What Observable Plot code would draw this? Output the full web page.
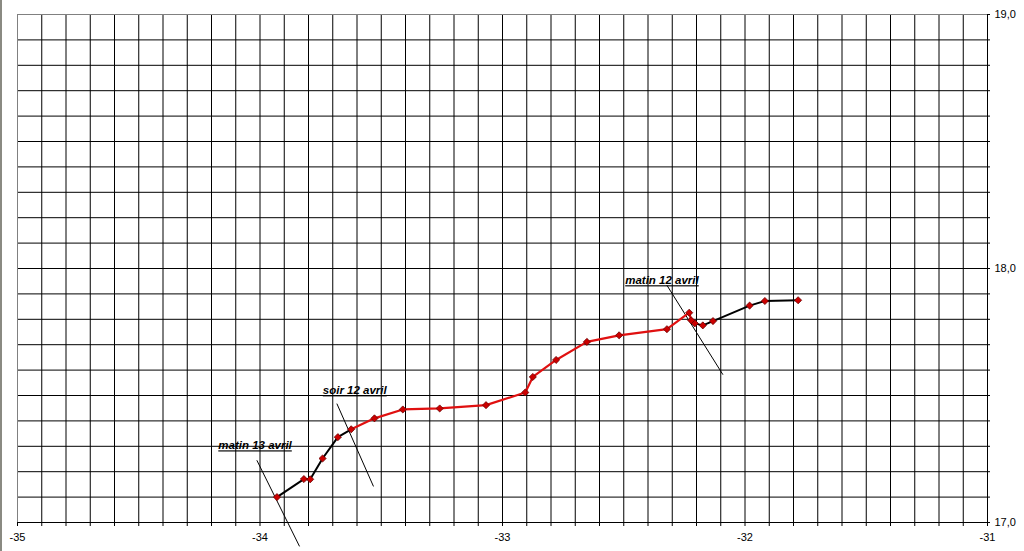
<!DOCTYPE html>
<html><head><meta charset="utf-8">
<script src="https://cdn.jsdelivr.net/npm/d3@7"></script>
<script src="https://cdn.jsdelivr.net/npm/@observablehq/plot@0.6"></script>
<style>
html,body{margin:0;padding:0;background:#fff;width:1024px;height:551px;overflow:hidden;}
#frame{position:absolute;left:0;top:0;width:2px;height:551px;background:#8a8a82;}
#chart{position:absolute;left:0;top:0;}
</style></head><body><div id="chart"></div><div id="frame"></div>
<script>
// Axis ticks and labels
const xTicks = [-35, -34, -33, -32, -31];
const xTickLabels = ["-35", "-34", "-33", "-32", "-31"];
const yTicks = [17, 18, 19];
const yTickLabels = ["17,0", "18,0", "19,0"];

// Track segments (longitude, latitude), east to west
const blackEarlyLon = [-31.781, -31.918, -31.981, -32.132, -32.174, -32.207, -32.222];
const blackEarlyLat = [17.875, 17.872, 17.854, 17.793, 17.776, 17.784, 17.796];
const redLon = [-32.222, -32.230, -32.322, -32.519, -32.652, -32.779, -32.875, -32.906, -33.068, -33.259, -33.411, -33.528, -33.624];
const redLat = [17.796, 17.826, 17.761, 17.737, 17.711, 17.640, 17.573, 17.512, 17.462, 17.449, 17.445, 17.410, 17.367];
const blackLateLon = [-33.624, -33.679, -33.742, -33.793, -33.819, -33.930];
const blackLateLat = [17.367, 17.336, 17.252, 17.170, 17.171, 17.100];

// Annotations
const annotText = ["matin 12 avril", "soir 12 avril", "matin 13 avril"];
const annotTextLon = [-32.494, -33.741, -34.172];
const annotTextLat = [17.938, 17.505, 17.288];
const annotLineLon1 = [-32.322, -33.683, -34.013];
const annotLineLat1 = [17.934, 17.468, 17.245];
const annotLineLon2 = [-32.091, -33.532, -33.837];
const annotLineLat2 = [17.582, 17.142, 16.906];

const seg = (lon, lat) => lon.map((x, i) => ({x, y: lat[i]}));
const blackEarly = seg(blackEarlyLon, blackEarlyLat);
const red = seg(redLon, redLat);
const blackLate = seg(blackLateLon, blackLateLat);
const allPts = [...blackEarly, ...red.slice(1), ...blackLate.slice(1)];
const annot = annotText.map((t, i) => ({
  t, x: annotTextLon[i], y: annotTextLat[i],
  x1: annotLineLon1[i], y1: annotLineLat1[i], x2: annotLineLon2[i], y2: annotLineLat2[i]
}));

const gridX = d3.range(-349, -310).map(v => v / 10);
const gridY = d3.range(171, 190).map(v => v / 10);
const minorX = d3.range(-350, -309).map(v => v / 10);
const minorY = d3.range(170, 191).map(v => v / 10);

const plot = Plot.plot({
  width: 1024, height: 551,
  marginLeft: 17, marginRight: 37, marginTop: 14, marginBottom: 29,
  x: {domain: [-35, -31]},
  y: {domain: [17, 19]},
  style: {fontFamily: "'Liberation Sans', Arial, sans-serif", fontSize: "11px", color: "black", background: "white"},
  marks: [
    Plot.ruleX(gridX, {stroke: "black", strokeWidth: 1}),
    Plot.ruleY(gridY, {stroke: "black", strokeWidth: 1}),
    Plot.ruleY([19], {stroke: "#808080"}),
    Plot.ruleX([-35], {stroke: "#808080"}),
    Plot.ruleY([17], {stroke: "black"}),
    Plot.ruleX([-31], {stroke: "black"}),
    Plot.axisX({ticks: minorX, tickSize: 4, tickFormat: () => "", label: null, stroke: "black"}),
    Plot.axisX({ticks: xTicks, tickSize: 0, tickPadding: 11, label: null,
      tickFormat: d => xTickLabels[xTicks.indexOf(d)], fill: "black"}),
    Plot.axisY({anchor: "right", ticks: minorY, tickSize: 2, tickFormat: () => "", label: null, stroke: "black"}),
    Plot.axisY({anchor: "right", ticks: yTicks, tickSize: 0, tickPadding: 7, label: null,
      tickFormat: d => yTickLabels[yTicks.indexOf(d)], fill: "black"}),
    Plot.link(annot, {x1: "x1", y1: "y1", x2: "x2", y2: "y2", stroke: "black", strokeWidth: 1}),
    Plot.line(blackEarly, {x: "x", y: "y", stroke: "black", strokeWidth: 2}),
    Plot.line(red, {x: "x", y: "y", stroke: "#e01010", strokeWidth: 2.2}),
    Plot.line(blackLate, {x: "x", y: "y", stroke: "black", strokeWidth: 2}),
    Plot.dot(allPts, {x: "x", y: "y", symbol: "diamond2", r: 3.2, fill: "#cc0000", stroke: "#6a0000", strokeWidth: 0.8}),
    Plot.text(annot, {x: "x", y: "y", text: "t", textAnchor: "start", lineAnchor: "bottom",
      fontSize: 11.5, fontWeight: "bold", fontStyle: "italic", fill: "black"})
  ]
});
d3.select(plot).selectAll("g[aria-label='text'] text").attr("text-decoration", "underline");
document.getElementById("chart").appendChild(plot);
</script></body></html>
